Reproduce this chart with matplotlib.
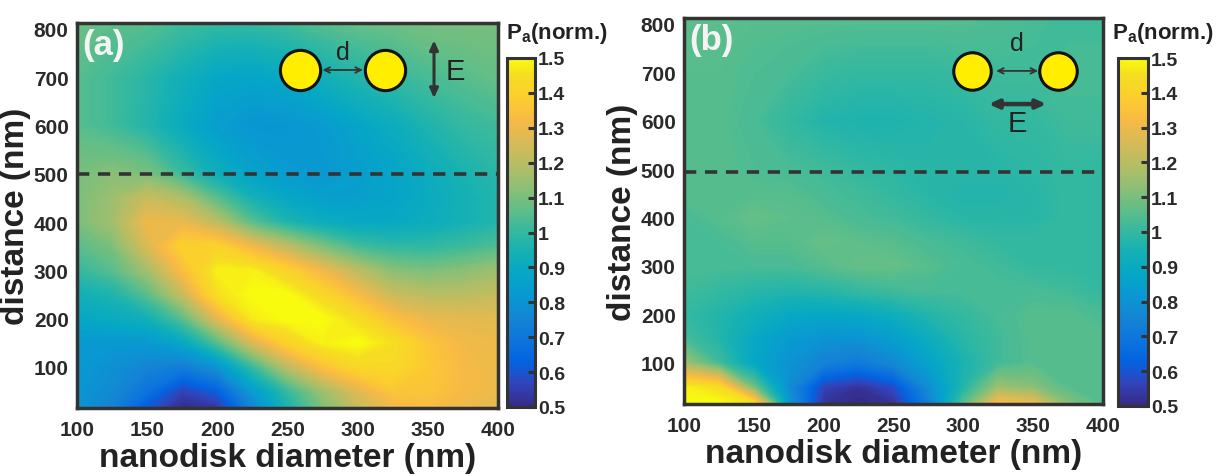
import matplotlib
matplotlib.use("Agg")
import matplotlib.pyplot as plt
import numpy as np
from matplotlib.colors import LinearSegmentedColormap, Normalize
from matplotlib.cm import ScalarMappable

# nanodisk diameter (nm), columns of the maps
diameter = [100, 125, 150, 175, 200, 225, 250, 275, 300, 325, 350, 375, 400]
# distance (nm), rows of the maps (bottom -> top)
distance = [15, 50, 100, 150, 200, 250, 300, 350, 400, 450, 500, 600, 700, 812]

# (a) E perpendicular to the dimer axis, normalized absorbed power
pa_perp = [
    [0.80, 0.74, 0.60, 0.50, 0.53, 0.74, 0.95, 1.10, 1.22, 1.30, 1.32, 1.30, 1.28],
    [0.81, 0.77, 0.68, 0.56, 0.62, 0.83, 1.00, 1.15, 1.27, 1.36, 1.36, 1.32, 1.30],
    [0.82, 0.79, 0.75, 0.72, 0.80, 1.00, 1.20, 1.34, 1.42, 1.43, 1.37, 1.32, 1.30],
    [0.82, 0.82, 0.82, 0.88, 1.04, 1.25, 1.40, 1.48, 1.50, 1.45, 1.36, 1.31, 1.30],
    [0.88, 0.90, 0.93, 1.05, 1.27, 1.47, 1.50, 1.50, 1.44, 1.34, 1.29, 1.28, 1.28],
    [0.93, 0.96, 1.05, 1.22, 1.45, 1.50, 1.50, 1.42, 1.32, 1.23, 1.20, 1.20, 1.22],
    [1.00, 1.05, 1.16, 1.33, 1.48, 1.48, 1.40, 1.30, 1.20, 1.12, 1.10, 1.12, 1.15],
    [1.05, 1.10, 1.26, 1.40, 1.40, 1.30, 1.20, 1.10, 1.02, 0.99, 0.99, 1.01, 1.04],
    [1.10, 1.16, 1.30, 1.29, 1.20, 1.05, 0.96, 0.91, 0.89, 0.89, 0.91, 0.94, 0.97],
    [1.10, 1.15, 1.23, 1.18, 1.05, 0.94, 0.88, 0.85, 0.85, 0.87, 0.90, 0.94, 0.97],
    [1.10, 1.12, 1.10, 1.01, 0.92, 0.86, 0.83, 0.82, 0.84, 0.87, 0.91, 0.95, 0.98],
    [1.05, 1.02, 0.97, 0.90, 0.84, 0.81, 0.81, 0.83, 0.87, 0.91, 0.96, 1.00, 1.02],
    [1.05, 1.02, 0.98, 0.93, 0.88, 0.87, 0.89, 0.93, 0.97, 1.00, 1.03, 1.05, 1.07],
    [1.08, 1.06, 1.05, 1.02, 1.00, 1.00, 1.02, 1.05, 1.07, 1.08, 1.10, 1.10, 1.10],
]

# (b) E parallel to the dimer axis
pa_par = [
    [1.50, 1.50, 1.45, 0.82, 0.52, 0.50, 0.52, 0.72, 1.05, 1.33, 1.30, 1.12, 1.05],
    [1.48, 1.44, 1.08, 0.78, 0.56, 0.52, 0.58, 0.78, 0.97, 1.15, 1.12, 1.05, 1.05],
    [1.15, 1.02, 0.88, 0.80, 0.74, 0.71, 0.76, 0.86, 0.95, 1.02, 1.05, 1.05, 1.05],
    [1.03, 0.97, 0.89, 0.83, 0.80, 0.80, 0.84, 0.91, 0.98, 1.02, 1.05, 1.05, 1.05],
    [1.00, 0.97, 0.93, 0.89, 0.88, 0.89, 0.92, 0.97, 1.00, 1.03, 1.05, 1.05, 1.03],
    [1.02, 1.00, 0.98, 0.97, 0.98, 1.00, 1.02, 1.03, 1.03, 1.03, 1.03, 1.02, 1.00],
    [1.03, 1.03, 1.03, 1.03, 1.05, 1.07, 1.07, 1.05, 1.03, 1.02, 1.00, 1.00, 1.00],
    [1.03, 1.03, 1.05, 1.05, 1.07, 1.06, 1.05, 1.03, 1.02, 1.00, 1.00, 1.00, 1.00],
    [1.03, 1.05, 1.07, 1.06, 1.05, 1.03, 1.02, 1.00, 0.98, 0.98, 0.98, 1.00, 1.00],
    [1.05, 1.05, 1.05, 1.05, 1.03, 1.02, 1.00, 0.98, 0.97, 0.97, 0.98, 1.00, 1.00],
    [1.05, 1.05, 1.04, 1.03, 1.02, 1.00, 0.99, 0.98, 0.98, 0.98, 0.99, 1.00, 1.00],
    [1.05, 1.05, 1.03, 1.00, 0.97, 0.96, 0.96, 0.97, 0.98, 1.00, 1.00, 1.02, 1.02],
    [1.05, 1.05, 1.04, 1.03, 1.01, 1.00, 1.00, 1.00, 1.01, 1.02, 1.02, 1.03, 1.03],
    [1.06, 1.06, 1.05, 1.05, 1.05, 1.05, 1.05, 1.05, 1.05, 1.04, 1.03, 1.02, 1.02],
]

xticks = [100, 150, 200, 250, 300, 350, 400]
yticks = [100, 200, 300, 400, 500, 600, 700, 800]
cbar_ticks = [0.5, 0.6, 0.7, 0.8, 0.9, 1.0, 1.1, 1.2, 1.3, 1.4, 1.5]
cbar_labels = ["0.5", "0.6", "0.7", "0.8", "0.9", "1", "1.1", "1.2", "1.3", "1.4", "1.5"]

W, H = 1220, 477
DARK = "#333333"
FONT = "Liberation Sans"

# parula-like colormap
parula = LinearSegmentedColormap.from_list("parula", [
    (0 / 63, (0.2081, 0.1663, 0.5292)),
    (4 / 63, (0.1959, 0.2645, 0.7279)),
    (8 / 63, (0.0117, 0.3875, 0.8820)),
    (12 / 63, (0.0498, 0.4586, 0.8641)),
    (16 / 63, (0.0793, 0.5200, 0.8312)),
    (20 / 63, (0.0343, 0.5966, 0.8199)),
    (24 / 63, (0.0228, 0.6535, 0.7768)),
    (28 / 63, (0.0843, 0.6928, 0.7062)),
    (32 / 63, (0.2178, 0.7250, 0.6193)),
    (36 / 63, (0.3953, 0.7459, 0.5244)),
    (40 / 63, (0.5709, 0.7485, 0.4494)),
    (44 / 63, (0.7184, 0.7411, 0.3905)),
    (48 / 63, (0.8507, 0.7299, 0.3360)),
    (52 / 63, (0.9739, 0.7314, 0.2666)),
    (56 / 63, (0.9880, 0.8066, 0.1794)),
    (60 / 63, (0.9626, 0.8705, 0.1309)),
    (63 / 63, (0.9763, 0.9831, 0.0538)),
])


def px_rect(x0, y0, x1, y1):
    # pixel box (top-left origin) -> figure fraction rect
    return [x0 / W, 1 - y1 / H, (x1 - x0) / W, (y1 - y0) / H]


def drawMap(fig, rect, crect, values, tag, dash_y, label_x):
    ax = fig.add_axes(px_rect(*rect))
    z = np.array(values)
    cs = ax.contourf(diameter, distance, z, levels=np.linspace(0.5, 1.5, 201),
                     cmap=parula, norm=Normalize(0.5, 1.5))
    cs.set_edgecolor("face")
    cs.set_linewidth(0.4)
    ax.axhline(dash_y, color=DARK, lw=2.6, linestyle=(0, (3.4, 2.4)))
    ax.set_xlim(100, 400)
    ax.set_ylim(15, 812)
    ax.set_xticks(xticks)
    ax.set_yticks(yticks)
    ax.tick_params(length=0, labelsize=15, colors="#2a2a2a")
    ax.tick_params(axis="x", pad=9)
    ax.tick_params(axis="y", pad=6)
    for lab in ax.get_xticklabels() + ax.get_yticklabels():
        lab.set_fontweight("bold")
    for s in ax.spines.values():
        s.set_linewidth(2.5)
        s.set_color(DARK)
    ax.set_xlabel("nanodisk diameter (nm)", fontsize=24, fontweight="bold",
                  color="#222222", labelpad=2)
    ax.set_ylabel("distance (nm)", fontsize=24, fontweight="bold",
                  color="#222222", labelpad=2)
    ax.text(0.012, 0.988, tag, transform=ax.transAxes, ha="left", va="top",
            fontsize=25, fontweight="bold", color="#f4f4f4")

    # colorbar on its own norm, so the next panel can't reset its ticks
    cax = fig.add_axes(px_rect(*crect))
    cb = fig.colorbar(ScalarMappable(norm=Normalize(0.5, 1.5), cmap=parula),
                      cax=cax)
    cb.set_ticks(cbar_ticks, labels=cbar_labels)
    cb.outline.set_linewidth(2.2)
    cb.outline.set_edgecolor(DARK)
    cax.tick_params(direction="in", length=5, width=2.2, color=DARK,
                    labelsize=14, pad=2, labelcolor="#2a2a2a")
    for lab in cax.get_yticklabels():
        lab.set_fontweight("bold")
    fig.text(label_x / W, 1 - 34 / H, r"P$_\mathregular{a}$(norm.)", fontsize=16,
             fontweight="bold", ha="left", va="center", color="#222222")
    return ax


def disks(ax, xs, y, size):
    ax.plot(xs, [y, y], "o", transform=ax.transAxes, ms=size,
            mfc="#ffee00", mec="#111111", mew=2.2, clip_on=False)


def main():
    plt.rcParams["font.family"] = [FONT, "DejaVu Sans"]
    plt.rcParams["mathtext.fontset"] = "custom"
    plt.rcParams["mathtext.rm"] = FONT + ":bold"
    plt.rcParams["mathtext.bf"] = FONT + ":bold"

    fig = plt.figure(figsize=(W / 100, H / 100), dpi=100)

    ax1 = drawMap(fig, (77, 24, 498, 409), (507, 59, 535, 408), pa_perp,
                  "(a)", 500, 506)
    disks(ax1, [0.53, 0.732], 0.878, 29)
    ax1.annotate("", xy=(0.679, 0.878), xytext=(0.583, 0.878),
                 xycoords="axes fraction",
                 arrowprops=dict(arrowstyle="<->", lw=1.3, color=DARK,
                                 shrinkA=0, shrinkB=0))
    ax1.text(0.631, 0.925, "d", transform=ax1.transAxes, ha="center",
             va="center", fontsize=18, color="#222222")
    ax1.annotate("", xy=(0.848, 0.955), xytext=(0.848, 0.805),
                 xycoords="axes fraction",
                 arrowprops=dict(arrowstyle="<|-|>,head_length=0.55,head_width=0.25",
                                 lw=2.2, color=DARK, shrinkA=0, shrinkB=0))
    ax1.text(0.898, 0.875, "E", transform=ax1.transAxes, ha="center",
             va="center", fontsize=21, color="#222222")

    ax2 = drawMap(fig, (684, 19, 1103, 405), (1118, 59, 1148, 407), pa_par,
                  "(b)", 493, 1112)
    disks(ax2, [0.687, 0.893], 0.863, 27)
    ax2.annotate("", xy=(0.845, 0.863), xytext=(0.745, 0.863),
                 xycoords="axes fraction",
                 arrowprops=dict(arrowstyle="<->", lw=1.3, color=DARK,
                                 shrinkA=0, shrinkB=0))
    ax2.text(0.795, 0.935, "d", transform=ax2.transAxes, ha="center",
             va="center", fontsize=18, color="#222222")
    ax2.annotate("", xy=(0.865, 0.777), xytext=(0.727, 0.777),
                 xycoords="axes fraction",
                 arrowprops=dict(arrowstyle="<|-|>,head_length=0.55,head_width=0.25",
                                 lw=3.2, color=DARK, shrinkA=0, shrinkB=0))
    ax2.text(0.795, 0.728, "E", transform=ax2.transAxes, ha="center",
             va="center", fontsize=21, color="#222222")

    fig.savefig("out.png", dpi=100)


if __name__ == "__main__":
    main()
